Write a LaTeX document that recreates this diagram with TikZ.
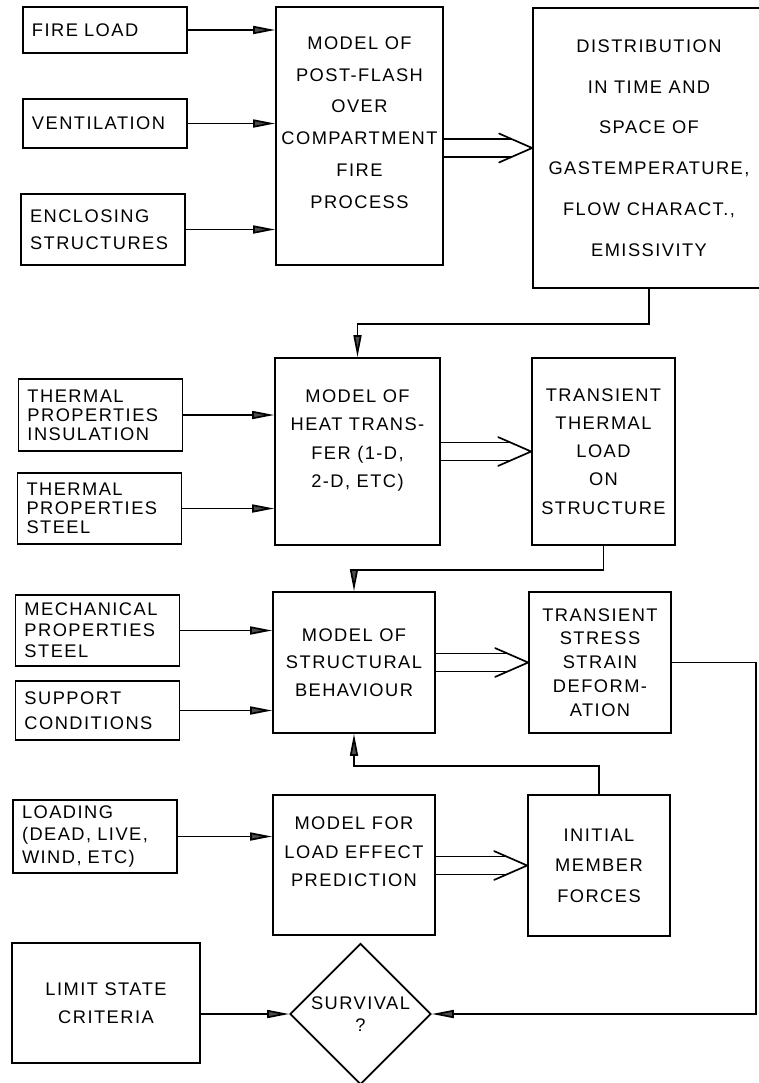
\documentclass[tikz,border=0pt]{standalone}
\usepackage{fontspec}
\setmainfont{Liberation Sans}[LetterSpace=8]
\usetikzlibrary{arrows.meta,shapes.geometric}
\tikzset{
	diagram/.style={line width=1.2pt, font=\fontsize{13}{15}\selectfont},
	razmik/.style={font=\fontsize{13}{#1}\selectfont},
	vhod/.style={draw, fill=white, align=left, text width=36.5mm, inner xsep=2.25mm, inner ysep=1pt},
	blok/.style={draw, fill=white, align=center, inner sep=2pt},
	odlocitev/.style={draw, diamond, shape aspect=1, fill=white, align=center, inner sep=0pt},
	tok/.style={-{Triangle[length=5.5mm,width=2mm,fill=black!70]}},
	dvojni/.style={double, double distance=4.1mm, shorten >=5.1mm},
	konica/.style={line cap=round},
}

\begin{document}
\begin{tikzpicture}[diagram]
\useasboundingbox (0,0) rectangle (18.95,-27.075);

% vhodni podatki
\node[vhod, minimum height=11.5mm] (obtezba) at (2.625,-0.75) {FIRE LOAD};
\node[vhod, minimum height=12.25mm] (prezrac) at (2.625,-3.0875) {VENTILATION};
\node[vhod, razmik=19pt, minimum height=17.75mm] (ovoj) at (2.575,-5.7375) {ENCLOSING\\STRUCTURES};
\node[vhod, razmik=13.5pt, minimum height=18mm] (izolacija) at (2.5125,-10.375) {THERMAL\\PROPERTIES\\INSULATION};
\node[vhod, razmik=13.5pt, minimum height=17.75mm] (jeklo) at (2.4875,-12.7125) {THERMAL\\PROPERTIES\\STEEL};
\node[vhod, razmik=15pt, minimum height=17.75mm] (mehjeklo) at (2.4375,-15.7625) {MECHANICAL\\PROPERTIES\\STEEL};
\node[vhod, razmik=17.5pt, minimum height=14.75mm] (podpore) at (2.4375,-17.7625) {SUPPORT\\CONDITIONS};
\node[vhod, razmik=16pt, minimum height=18.25mm] (obtez) at (2.375,-20.9125) {LOADING\\(DEAD, LIVE,\\WIND, ETC)};
\node[blok, razmik=19.8pt, minimum width=47mm, minimum height=30mm] (mejno) at (2.65,-25.075) {LIMIT STATE\\CRITERIA};

% modeli in rezultati
\node[blok, razmik=22.7pt, minimum width=41.75mm, minimum height=64.5mm, text depth=6.75mm] (pozar) at (8.9875,-3.4)
    {MODEL OF\\POST-FLASH\\OVER\\COMPARTMENT\\FIRE\\PROCESS};
\node[blok, razmik=29pt, minimum width=58mm, minimum height=70mm] (porazd) at (16.225,-3.7)
    {DISTRIBUTION\\IN TIME AND\\SPACE OF\\GASTEMPERATURE,\\FLOW CHARACT.,\\EMISSIVITY};
\node[blok, razmik=20.2pt, minimum width=41.25mm, minimum height=46.75mm, text depth=6.5mm] (prevod) at (8.9375,-11.2875)
    {MODEL OF\\HEAT TRANS-\\FER (1-D,\\2-D, ETC)};
\node[blok, razmik=20pt, minimum width=35.75mm, minimum height=46.75mm] (termobr) at (15.0875,-11.2875)
    {TRANSIENT\\THERMAL\\LOAD\\ON\\STRUCTURE};
\node[blok, razmik=19.5pt, minimum width=40.5mm, minimum height=35.25mm] (konstr) at (8.85,-16.5625)
    {MODEL OF\\STRUCTURAL\\BEHAVIOUR};
\node[blok, razmik=17pt, minimum width=35.5mm, minimum height=35.25mm] (napetosti) at (15,-16.5625)
    {TRANSIENT\\STRESS\\STRAIN\\DEFORM-\\ATION};
\node[blok, razmik=20.2pt, minimum width=40.5mm, minimum height=35mm, text depth=6.5mm] (ucinki) at (8.85,-21.625)
    {MODEL FOR\\LOAD EFFECT\\PREDICTION};
\node[blok, razmik=21.6pt, minimum width=35.5mm, minimum height=35.25mm] (sile) at (14.975,-21.6375)
    {INITIAL\\MEMBER\\FORCES};
\node[odlocitev, razmik=15.6pt, minimum width=35.25mm, minimum height=35.25mm] (prezivetje) at (9.0125,-25.35)
    {SURVIVAL\\?};

\coordinate (rob) at (18.9,0);

% vhodi
\draw[tok] (obtezba) -- (obtezba -| pozar.west);
\draw[tok] (prezrac) -- (prezrac -| pozar.west);
\draw[tok] (ovoj) -- (ovoj -| pozar.west);
\draw[tok] (izolacija) -- (izolacija -| prevod.west);
\draw[tok] (jeklo) -- (jeklo -| prevod.west);
\draw[tok] (mehjeklo) -- (mehjeklo -| konstr.west);
\draw[tok] (podpore) -- (podpore -| konstr.west);
\draw[tok] (obtez) -- (obtez -| ucinki.west);
\draw[tok] (mejno.east |- prezivetje.west) -- (prezivetje.west);

% dvojne puscice
\draw[dvojni] (pozar.east |- porazd.west) -- (porazd.west);
\draw[konica] (porazd.west) -- ++(-0.825,0.36) (porazd.west) -- ++(-0.825,-0.36);
\draw[dvojni] (prevod) -- (termobr);
\draw[konica] (termobr.west) -- ++(-0.825,0.36) (termobr.west) -- ++(-0.825,-0.36);
\draw[dvojni] (konstr) -- (napetosti);
\draw[konica] (napetosti.west) -- ++(-0.825,0.36) (napetosti.west) -- ++(-0.825,-0.36);
\draw[dvojni] (ucinki.east |- sile.west) -- (sile.west);
\draw[konica] (sile.west) -- ++(-0.825,0.36) (sile.west) -- ++(-0.825,-0.36);

% povratne zanke
\draw[tok] (porazd.south) -- ++(0,-0.875) -| (prevod.north);
\draw[tok] (termobr.south) -- ++(0,-0.6) -| (konstr.north);
\draw[tok] (sile.north) -- ++(0,0.7) -| (konstr.south);
\draw[tok] (napetosti.east) -| (rob |- prezivetje.east) -- (prezivetje.east);

\end{tikzpicture}
\end{document}
